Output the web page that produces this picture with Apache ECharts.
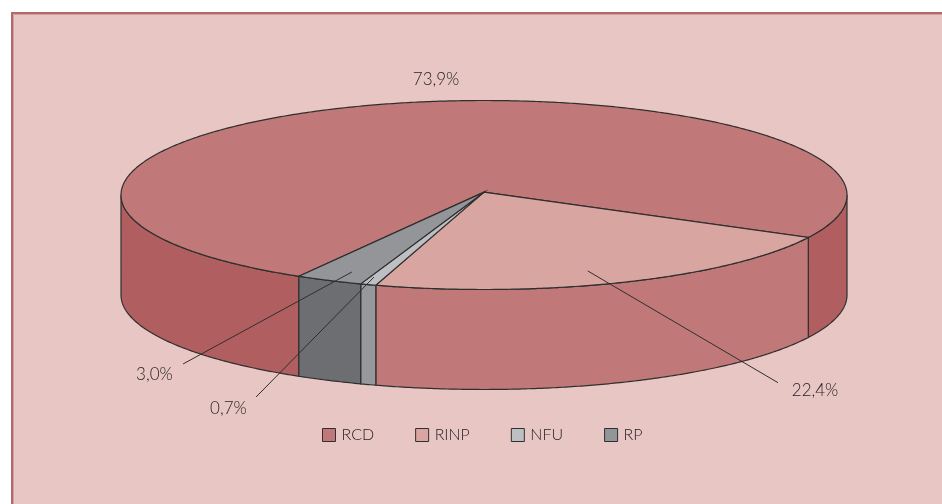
<!DOCTYPE html>
<html>
<head>
<meta charset="utf-8">
<style>
  html, body { margin: 0; padding: 0; background: #fff; }
  #chart { width: 942px; height: 504px; }
</style>
<script src="https://cdn.jsdelivr.net/npm/echarts@6/dist/echarts.min.js"></script>
</head>
<body>
<div id="chart"></div>
<script>
var categories = ['RCD', 'RINP', 'NFU', 'RP'];
var percents = [73.9, 22.4, 0.7, 3.0];
var percentLabels = ['73,9%', '22,4%', '0,7%', '3,0%'];

var topColors = ['#c07978', '#d8a5a1', '#bdbfc3', '#939598'];
var wallColors = ['#b05e60', '#c07978', '#96989b', '#6d6e71'];
var lineColor = '#2f2f2f';

// geometry in axis units: the rim ellipse spans -1..1 on both hidden axes
var startAngle = 26.7;
var depth = 1.058;
var apex = [0, -0.03];

// leader lines and label spots, also in axis units (null = no leader)
var leaders = [
  { text: [-0.132, -1.218], from: null, to: null },
  { text: [0.912, 2.073], from: [0.286, 0.804], to: [0.81, 1.986] },
  { text: [-0.704, 2.264], from: [-0.303, 0.868], to: [-0.628, 2.138] },
  { text: [-0.908, 1.904], from: [-0.364, 0.815], to: [-0.829, 1.788] }
];

function sliceRange(index) {
  var from = startAngle;
  for (var i = 1; i <= index; i++) {
    from += percents[i] * 3.6;
  }
  // RCD comes last going clockwise, so it wraps round past 360
  if (index === 0) {
    var rest = percents[1] + percents[2] + percents[3];
    return [startAngle + rest * 3.6, startAngle + 360];
  }
  return [from - percents[index] * 3.6, from];
}

function rim(api, angle, drop) {
  var r = angle * Math.PI / 180;
  return api.coord([Math.cos(r), Math.sin(r) + drop]);
}

function arcPoints(api, a0, a1, drop) {
  var pts = [];
  var steps = Math.max(2, Math.ceil((a1 - a0) * 2));
  for (var i = 0; i <= steps; i++) {
    pts.push(rim(api, a0 + (a1 - a0) * i / steps, drop));
  }
  return pts;
}

function wallPiece(api, a0, a1, color) {
  var top = arcPoints(api, a0, a1, 0);
  var bottom = arcPoints(api, a0, a1, depth).reverse();
  return {
    type: 'polygon',
    shape: { points: top.concat(bottom) },
    style: { fill: color, stroke: lineColor, lineWidth: 1.2 }
  };
}

function renderSlice(params, api) {
  var index = params.seriesIndex;
  var range = sliceRange(index);
  var children = [];
  // only the front half of the side wall can be seen
  [[0, 180], [360, 540]].forEach(function (win) {
    var a0 = Math.max(range[0], win[0]);
    var a1 = Math.min(range[1], win[1]);
    if (a1 > a0) {
      children.push(wallPiece(api, a0, a1, wallColors[index]));
    }
  });
  children.push({
    type: 'polygon',
    shape: { points: [api.coord(apex)].concat(arcPoints(api, range[0], range[1], 0)) },
    style: { fill: topColors[index], stroke: lineColor, lineWidth: 1.2 }
  });
  return { type: 'group', children: children };
}

function renderLabel(params, api) {
  var item = leaders[params.dataIndex];
  var spot = api.coord(item.text);
  var children = [{
    type: 'text',
    style: {
      text: percentLabels[params.dataIndex],
      x: spot[0],
      y: spot[1],
      align: 'center',
      verticalAlign: 'middle',
      fill: '#1f1f1f',
      font: '300 17px Lato'
    }
  }];
  if (item.from) {
    var a = api.coord(item.from);
    var b = api.coord(item.to);
    children.push({
      type: 'line',
      shape: { x1: a[0], y1: a[1], x2: b[0], y2: b[1] },
      style: { stroke: lineColor, lineWidth: 1 }
    });
  }
  return { type: 'group', children: children };
}

var series = categories.map(function (name, i) {
  return {
    name: name,
    type: 'custom',
    coordinateSystem: 'cartesian2d',
    renderItem: renderSlice,
    itemStyle: { color: topColors[i] },
    data: [[0, 0, percents[i]]],
    z: 2 + i,
    silent: true
  };
});
series.push({
  name: 'labels',
  type: 'custom',
  coordinateSystem: 'cartesian2d',
  renderItem: renderLabel,
  data: percents.map(function (p) { return [0, 0, p]; }),
  z: 10,
  silent: true
});

var chart = echarts.init(document.getElementById('chart'), null, { renderer: 'canvas' });
chart.setOption({
  animation: false,
  backgroundColor: '#fff',
  graphic: [
    { type: 'rect', z: -2, shape: { x: 12, y: 13, width: 1000, height: 1000 },
      style: { fill: '#e8c6c4', stroke: '#b2696c', lineWidth: 2 } },
    { type: 'rect', z: -1, shape: { x: 13.5, y: 14.5, width: 1000, height: 1000 },
      style: { fill: 'none', stroke: '#d3a0a2', lineWidth: 1 } }
  ],
  grid: { left: 121, top: 100.5, width: 726, height: 189 },
  xAxis: { type: 'value', min: -1, max: 1, show: false },
  yAxis: { type: 'value', min: -1, max: 1, inverse: true, show: false },
  legend: {
    data: categories,
    left: 317,
    top: 422,
    icon: 'rect',
    itemWidth: 13,
    itemHeight: 13,
    itemGap: 41,
    selectedMode: false,
    itemStyle: { borderColor: '#2f2f2f', borderWidth: 1 },
    textStyle: { color: '#1f1f1f', fontFamily: 'Lato', fontWeight: 300, fontSize: 16, padding: [0, 0, 0, 1] }
  },
  series: series
});
</script>
</body>
</html>
